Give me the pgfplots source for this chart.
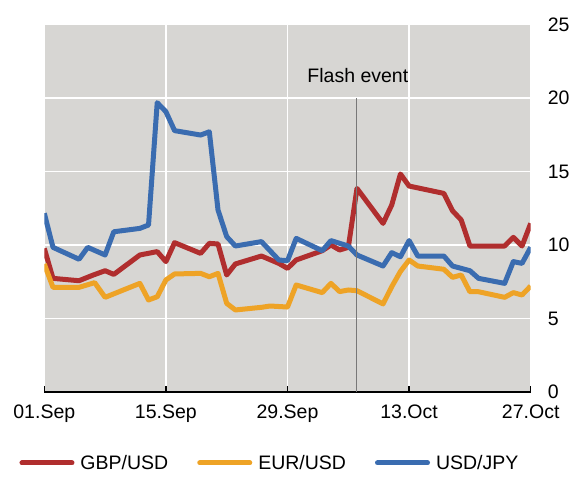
\documentclass[border=0pt]{standalone}
\usepackage{fontspec}
\setmainfont{Liberation Sans}
\usepackage{pgfplots}
\pgfplotsset{compat=1.18}
\definecolor{gbp}{RGB}{176,46,46}
\definecolor{eur}{RGB}{238,163,38}
\definecolor{jpy}{RGB}{58,108,176}
\definecolor{bg}{RGB}{215,214,211}
\definecolor{flash}{RGB}{120,120,120}
\begin{document}
\begin{tikzpicture}
\path[use as bounding box] (-44.3bp,-94bp) rectangle (528.7bp,392bp);
\begin{axis}[
  at={(0,0)}, anchor=south west,
  scale only axis, width=486.4bp, height=367.5bp,
  xmin=0, xmax=56, ymin=0, ymax=25,
  font=\fontsize{19.5bp}{23bp}\selectfont,
  /pgf/number format/assume math mode=true,
  axis background/.style={fill=bg},
  axis x line*=bottom, axis y line*=right,
  x axis line style={black, line width=2bp, -},
  y axis line style={draw=none, -},
  xtick={0,14,28,42,56},
  xticklabels={01.Sep,15.Sep,29.Sep,13.Oct,27.Oct},
  ytick={0,5,10,15,20,25},
  xtick align=inside,
  major tick length=6bp,
  xtick style={black, line width=1.5bp},
  ytick style={draw=none},
  xticklabel style={inner sep=0pt, anchor=north, yshift=-13bp},
  yticklabel style={inner sep=0pt, anchor=west, xshift=17bp},
  grid=major,
  major grid style={white, line width=1.8bp},
  legend columns=3,
  legend style={draw=none, fill=none, inner sep=0pt, at={(axis description cs:-0.0514,-0.193)}, anchor=west,
    nodes={inner sep=0pt, anchor=west},
    /tikz/every even column/.append style={column sep=29bp},
    /tikz/every odd column/.append style={column sep=6bp}},
  legend image code/.code={\draw[line width=5bp, line cap=round] (2.5bp,0bp) -- (52.5bp,0bp);},
  every axis plot/.append style={line width=5bp, line join=round},
]
\addplot[gbp] coordinates {
(0,9.77) (1,7.73) (4,7.57) (5.6,7.95) (7,8.25) (8,8.0) (11,9.32) (13,9.55) (14,8.87)
(15,10.16) (18,9.43) (19,10.11) (20,10.07) (21,7.96) (22,8.71) (25,9.25) (27,8.75)
(28,8.41) (29,8.98) (32,9.61) (33,10.0) (34,9.66) (35,9.84) (36,13.85) (39,11.47)
(40,12.72) (41,14.83) (42,14.01) (46,13.51) (47,12.33) (48,11.7) (49,9.93) (53,9.93)
(54,10.52) (55,9.93) (56,11.47)};
\addlegendentry{GBP/USD}
\addplot[eur] coordinates {
(0,8.71) (1,7.12) (4,7.12) (5.8,7.44) (7,6.44) (11,7.39) (12,6.26) (13,6.48) (14,7.62)
(15,8.03) (18,8.07) (19,7.84) (20,8.07) (21,6.03) (22,5.58) (25,5.76) (26,5.85)
(28,5.78) (29,7.28) (32,6.76) (33,7.39) (34,6.83) (35,6.94) (36,6.89) (39,5.99)
(40,7.16) (41,8.2) (42,8.98) (43,8.57) (46,8.35) (47,7.8) (48,7.96) (49,6.82)
(50,6.82) (53,6.44) (54,6.76) (55,6.6) (56,7.21)};
\addlegendentry{EUR/USD}
\addplot[jpy] coordinates {
(0,12.16) (1,9.84) (4,9.03) (5,9.84) (7,9.32) (8,10.9) (11,11.13) (12,11.36) (13,19.68)
(14,19.07) (15,17.78) (18,17.48) (19,17.7) (20,12.38) (21,10.57) (22,9.93) (25,10.23)
(27,8.98) (28,8.93) (29,10.45) (32,9.61) (33,10.3) (35,9.93) (36,9.32) (39,8.57)
(40,9.48) (41,9.2) (42,10.3) (43,9.25) (46,9.25) (47,8.57) (49,8.25) (50,7.73)
(53,7.39) (54,8.87) (55,8.75) (56,9.84)};
\addlegendentry{USD/JPY}
\addplot[flash, line width=1bp, forget plot] coordinates {(36,0) (36,20)};
\node[font=\fontsize{19.5bp}{23bp}\selectfont, inner sep=0pt] at (axis cs:36.1,21.53) {Flash event};
\end{axis}
\end{tikzpicture}
\end{document}
